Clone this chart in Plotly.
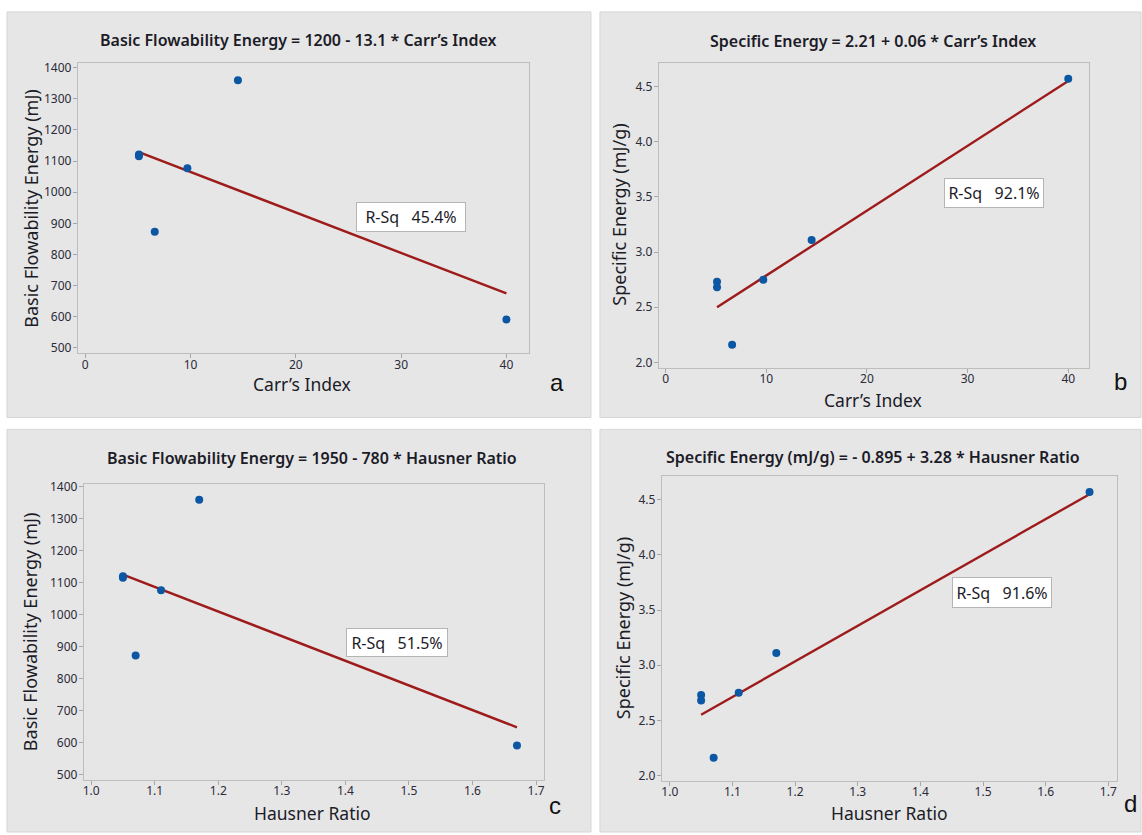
import plotly.graph_objects as go

# ---------------- data ----------------
carr_index = [5.1, 5.1, 6.6, 9.7, 14.5, 40.0]
hausner_ratio = [1.05, 1.05, 1.07, 1.11, 1.17, 1.67]
bfe_mj = [1121, 1116, 873, 1077, 1360, 591]
se_mjg = [2.73, 2.68, 2.16, 2.75, 3.11, 4.57]

fit_a_x = [5.1, 40.0]
fit_a_y = [1129, 675]
fit_b_x = [5.1, 40.0]
fit_b_y = [2.50, 4.55]
fit_c_x = [1.05, 1.67]
fit_c_y = [1126, 648]
fit_d_x = [1.05, 1.67]
fit_d_y = [2.55, 4.55]

titles = [
    "Basic Flowability Energy = 1200 - 13.1 * Carr\u2019s Index",
    "Specific Energy = 2.21 + 0.06 * Carr\u2019s Index",
    "Basic Flowability Energy = 1950 - 780 * Hausner Ratio",
    "Specific Energy (mJ/g) = - 0.895 + 3.28 * Hausner Ratio",
]
x_titles = ["Carr\u2019s Index", "Carr\u2019s Index", "Hausner Ratio", "Hausner Ratio"]
y_titles = ["Basic Flowability Energy (mJ)", "Specific Energy (mJ/g)",
            "Basic Flowability Energy (mJ)", "Specific Energy (mJ/g)"]
rsq_labels = ["45.4%", "92.1%", "51.5%", "91.6%"]
panel_letters = ["a", "b", "c", "d"]

# ---------------- layout geometry (pixels) ----------------
W, H = 1142, 835
def px(x):
    return x / W
def py(y):
    return 1 - y / H

frames = [  # left, right, top, bottom
    (77, 529, 58, 351),
    (659, 1090, 58, 366),
    (83, 544, 483, 782),
    (662, 1118, 475, 783),
]
panels = [(6, 591, 6, 416), (600, 1142, 6, 416), (6, 591, 428, 835), (600, 1142, 428, 835)]
ranges = [
    ([-0.7, 42.15], [483, 1414], 10, 100, None, None),
    ([-0.68, 42.07], [1.949, 4.709], 10, 0.5, None, ".1f"),
    ([0.9885, 1.7126], [484.5, 1410], 0.1, 100, ".1f", None),
    ([0.9873, 1.7139], [1.954, 4.716], 0.1, 0.5, ".1f", ".1f"),
]
title_pos = [(298, 34), (874, 35), (312, 457), (874, 456)]
xt_pos = [(302, 382), (874, 398), (312, 816), (890, 816)]
yt_pos = [(30, 204), (619, 211), (29, 632), (623, 629)]
letter_pos = [(557, 381), (1121, 380), (555, 808), (1131, 806)]
rsq_box = [  # center x, center y (data), width, height (px)
    (30.9, 922, 104, 24),
    (32.65, 3.538, 94, 24),
    (1.482, 913.5, 96, 23),
    (1.530, 3.657, 94, 25),
]

xs = [carr_index, carr_index, hausner_ratio, hausner_ratio]
ys = [bfe_mj, se_mjg, bfe_mj, se_mjg]
fits = [(fit_a_x, fit_a_y), (fit_b_x, fit_b_y), (fit_c_x, fit_c_y), (fit_d_x, fit_d_y)]

FONT = "Noto Sans"
fig = go.Figure()
shapes = []
annotations = []
layout_axes = {}

for i in range(4):
    n = "" if i == 0 else str(i + 1)
    xa, ya = "x" + n, "y" + n
    fx, fy = fits[i]
    fig.add_trace(go.Scatter(x=fx, y=fy, mode="lines", xaxis=xa, yaxis=ya,
                             line=dict(color="#9e1b1b", width=2.4), showlegend=False))
    fig.add_trace(go.Scatter(x=xs[i], y=ys[i], mode="markers", xaxis=xa, yaxis=ya,
                             marker=dict(color="#0b57a4", size=8), showlegend=False))
    l, r, t, b = frames[i]
    xr, yr, dx, dy, fx_fmt, fy_fmt = ranges[i]
    common = dict(showgrid=False, zeroline=False, showline=True, mirror=True,
                  linecolor="#bdbdbd", linewidth=1, ticks="outside", ticklen=4,
                  tickcolor="#a8a8a8", tickwidth=1,
                  tickfont=dict(family=FONT, size=12, color="#2b2b3a"))
    layout_axes["xaxis" + n] = dict(common, domain=[px(l), px(r)], range=xr, dtick=dx,
                                    tick0=0, anchor=ya, tickformat=fx_fmt,
                                    ticklabelstandoff=-4)
    layout_axes["yaxis" + n] = dict(common, domain=[py(b), py(t)], range=yr, dtick=dy,
                                    tick0=0, anchor=xa, tickformat=fy_fmt,
                                    ticklabelstandoff=-1)
    pl, pr, pt, pb = panels[i]
    shapes.append(dict(type="rect", xref="paper", yref="paper", x0=px(pl), x1=px(pr),
                       y0=py(pb), y1=py(pt), fillcolor="#e6e6e6",
                       line=dict(color="#d6d6d6", width=1), layer="below"))
    tx, ty = title_pos[i]
    annotations.append(dict(xref="paper", yref="paper", x=px(tx), y=py(ty), text=titles[i],
                            showarrow=False, xanchor="center", yanchor="middle",
                            font=dict(family=FONT, size=16, color="#1c1c28", weight=600)))
    ax_, ay_ = xt_pos[i]
    annotations.append(dict(xref="paper", yref="paper", x=px(ax_), y=py(ay_), text=x_titles[i],
                            showarrow=False, xanchor="center", yanchor="middle",
                            font=dict(family=FONT, size=17.5, color="#1c1c28")))
    yx, yy = yt_pos[i]
    annotations.append(dict(xref="paper", yref="paper", x=px(yx), y=py(yy), text=y_titles[i],
                            showarrow=False, xanchor="center", yanchor="middle", textangle=-90,
                            font=dict(family=FONT, size=18, color="#1c1c28")))
    lx, ly = letter_pos[i]
    annotations.append(dict(xref="paper", yref="paper", x=px(lx), y=py(ly), text=panel_letters[i],
                            showarrow=False, xanchor="center", yanchor="middle",
                            font=dict(family="Liberation Sans", size=24, color="#111111")))
    cx, cy, bw, bh = rsq_box[i]
    annotations.append(dict(xref=xa, yref=ya, x=cx, y=cy,
                            text="R-Sq&nbsp;&nbsp;&nbsp;" + rsq_labels[i],
                            showarrow=False, xanchor="center", yanchor="middle",
                            width=bw, height=bh, borderpad=2, borderwidth=1,
                            bordercolor="#b5b5b5", bgcolor="#ffffff",
                            font=dict(family=FONT, size=16, color="#1c1c28")))

fig.update_layout(width=W, height=H, margin=dict(l=0, r=0, t=0, b=0),
                  paper_bgcolor="#ffffff", plot_bgcolor="#ffffff",
                  shapes=shapes, annotations=annotations, showlegend=False,
                  **layout_axes)

fig.write_html("out.html")
